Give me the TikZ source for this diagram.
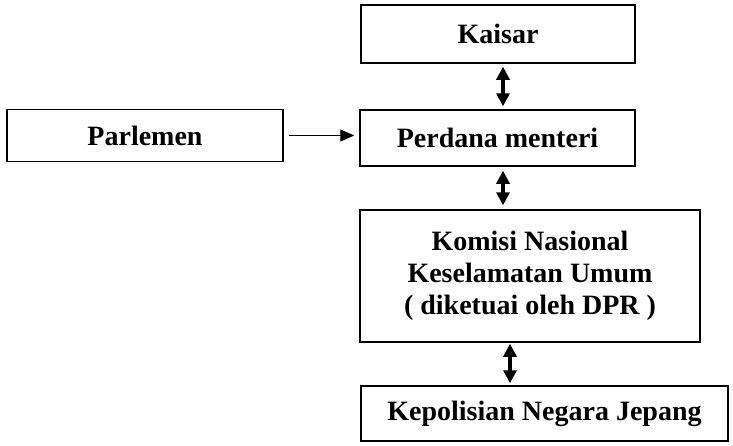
\documentclass[tikz,border=0pt]{standalone}
\usepackage{fontspec}
\setmainfont{Liberation Serif}
\usetikzlibrary{arrows.meta}
\begin{document}
\begin{tikzpicture}[x=1pt,y=-1pt,
  box/.style={draw=black, line width=1.5pt, fill=white, inner sep=0pt, align=center,
    font=\fontsize{28}{32}\selectfont\bfseries},
  dbl/.style={line width=3.5pt, {Triangle[width=13pt,length=13pt]}-{Triangle[width=13pt,length=13pt]}},
  one/.style={line width=1.4pt, -{Triangle[width=12pt,length=14pt]}}]
\useasboundingbox (0,0) rectangle (733,445);
\node[box, minimum width=274pt, minimum height=58pt] (kaisar) at (498,34) {Kaisar};
\node[box, minimum width=275pt, minimum height=56pt] (perdana) at (497.5,138) {Perdana menteri};
\node[box, minimum width=276pt, minimum height=52pt] (parlemen) at (145,135.5) {Parlemen};
\node[box, minimum width=340pt, minimum height=132pt] (komisi) at (530,276)
  {Komisi Nasional\\Keselamatan Umum\\( diketuai oleh DPR )};
\node[box, minimum width=367pt, minimum height=55pt] (polisi) at (544.5,413.5) {Kepolisian Negara Jepang};
\draw[dbl, shorten <=3pt, shorten >=3pt] ([xshift=5pt]kaisar.south) -- ([xshift=5.5pt]perdana.north);
\draw[dbl, shorten <=4pt, shorten >=4pt] ([xshift=5.5pt]perdana.south) -- ([xshift=-27pt]komisi.north);
\draw[dbl, shorten <=1pt, shorten >=2pt] ([xshift=-20pt]komisi.south) -- ([xshift=-34.5pt]polisi.north);
\draw[one, shorten <=5pt, shorten >=5pt] (parlemen.east) -- (parlemen.east -| perdana.west);
\end{tikzpicture}
\end{document}
